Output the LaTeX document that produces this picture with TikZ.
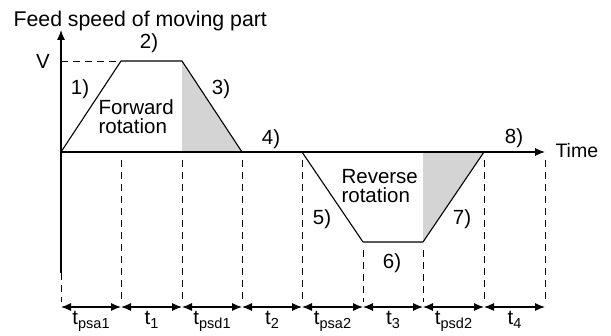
\documentclass[tikz,border=0pt]{standalone}
\usepackage{fontspec}
\setmainfont{Liberation Sans}
\usetikzlibrary{arrows.meta}
\newcommand{\tsub}[1]{t\raisebox{-0.3ex}{\fontsize{14.5}{14.5}\selectfont #1}}
\begin{document}
\begin{tikzpicture}[x=1pt, y=-1pt, line width=1.1pt,
                    lbl/.style={inner sep=0pt, font=\fontsize{20.5}{19.5}\selectfont},
                    guide/.style={line width=0.9pt, dash pattern=on 7pt off 5pt},
                    shade/.style={fill=black!17, draw=none},
                    >={Latex[length=10pt, width=8pt]}]
                    \useasboundingbox (0,0) rectangle (611,336);

                    % Puntos del perfil
                    \coordinate (O)  at (61,152);
                    \coordinate (A1) at (121,61);
                    \coordinate (A2) at (182,61);
                    \coordinate (A3) at (242,152);
                    \coordinate (R1) at (302,152);
                    \coordinate (R2) at (363,242);
                    \coordinate (R3) at (423,242);
                    \coordinate (R4) at (484,152);
                    \coordinate (Tend) at (545,152);
                    \coordinate (Vtop) at (61,30);
                    \coordinate (Vlev) at (61,61);
                    \coordinate (Obot) at (61,273);

                    % Zonas sombreadas
                    \fill[shade] (A2) -- (A3) -- (A2 |- O) -- cycle;
                    \fill[shade] (R3) -- (R4) -- (R3 |- O) -- cycle;

                    % Ejes
                    \draw[->] (Obot) -- (Vtop);
                    \draw[->] (O) -- (Tend);
                    \draw[guide] (Vlev) -- (A1);

                    % Perfil de velocidad
                    \draw (O) -- (A1) -- (A2) -- (A3);
                    \draw (R1) -- (R2) -- (R3) -- (R4);

                    % Textos
                    \node[lbl, anchor=base west, font=\fontsize{21.3}{22}\selectfont] (title) at (13,27) {Feed speed of moving part};
                    \node[lbl] (V) at (43,61) {V};
                    \node[lbl, anchor=west, font=\fontsize{19.5}{22}\selectfont] (time) at (555,151) {Time};
                    \node[lbl] (s1) at (80,89) {1)};
                    \node[lbl] (s2) at (149,43) {2)};
                    \node[lbl] (s3) at (221,89) {3)};
                    \node[lbl] (s4) at (271,139) {4)};
                    \node[lbl] (s5) at (322,219) {5)};
                    \node[lbl] (s6) at (392,263) {6)};
                    \node[lbl] (s7) at (462,219) {7)};
                    \node[lbl] (s8) at (514,138) {8)};
                    \node[lbl, align=left, anchor=base west] (fwd) at (98,134) {Forward\\rotation};
                    \node[lbl, align=left, anchor=base west] (rev) at (341,203) {Reverse\\rotation};

                    % Guías verticales
                    \coordinate (g0) at (61,302);
                    \foreach \n/\x/\y in {1/121/160, 2/182/160, 3/242/160, 4/302/160,
                                          5/363/250, 6/423/250, 7/484/160, 8/545/160} {
                        \coordinate (h\n) at (\x,\y);
                        \coordinate (g\n) at (\x,302);
                        \draw[guide] (h\n) -- (g\n);
                    }
                    \draw[guide] (Obot) -- (g0);

                    % Cotas de tiempo
                    \foreach \n/\x in {0/61, 1/121, 2/182, 3/242, 4/302, 5/363, 6/423, 7/484, 8/545}
                        \coordinate (b\n) at (\x,307);
                    \draw[<->] (b0) -- node[lbl, anchor=base, yshift=-18pt] {\tsub{psa1}} (b1);
                    \draw[<->] (b1) -- node[lbl, anchor=base, yshift=-18pt] {\tsub{1}} (b2);
                    \draw[<->] (b2) -- node[lbl, anchor=base, yshift=-18pt] {\tsub{psd1}} (b3);
                    \draw[<->] (b3) -- node[lbl, anchor=base, yshift=-18pt] {\tsub{2}} (b4);
                    \draw[<->] (b4) -- node[lbl, anchor=base, yshift=-18pt] {\tsub{psa2}} (b5);
                    \draw[<->] (b5) -- node[lbl, anchor=base, yshift=-18pt] {\tsub{3}} (b6);
                    \draw[<->] (b6) -- node[lbl, anchor=base, yshift=-18pt] {\tsub{psd2}} (b7);
                    \draw[<->] (b7) -- node[lbl, anchor=base, yshift=-18pt] {\tsub{4}} (b8);
                \end{tikzpicture}
\end{document}
